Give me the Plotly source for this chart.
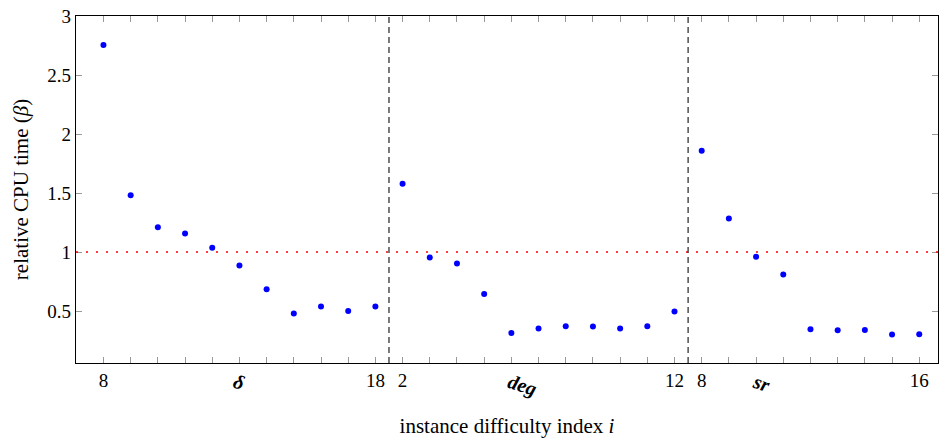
import plotly.graph_objects as go

# Data
groups = ["δ", "deg", "sr"]
idx_delta = list(range(8, 19))      # 8..18
idx_deg = list(range(2, 13))        # 2..12
idx_sr = list(range(8, 17))         # 8..16
beta_delta = [2.755, 1.482, 1.211, 1.158, 1.037, 0.887, 0.684, 0.479, 0.538, 0.501, 0.538]
beta_deg = [1.579, 0.953, 0.904, 0.645, 0.315, 0.352, 0.371, 0.369, 0.352, 0.371, 0.496]
beta_sr = [1.858, 1.285, 0.961, 0.809, 0.346, 0.338, 0.340, 0.301, 0.304]
reference_beta = 1.0

all_idx = idx_delta + idx_deg + idx_sr
all_beta = beta_delta + beta_deg + beta_sr
pos = list(range(len(all_beta)))

n1, n2, n3 = len(idx_delta), len(idx_deg), len(idx_sr)
shown = {0, n1 - 1, n1, n1 + n2 - 1, n1 + n2, n1 + n2 + n3 - 1}
ticktext = [str(v) if i in shown else "" for i, v in enumerate(all_idx)]

FONT = "Liberation Serif"

fig = go.Figure()
fig.add_trace(go.Scatter(x=pos, y=all_beta, mode="markers",
                         marker=dict(color="#0000ff", size=6), showlegend=False))

# reference line
fig.add_hline(y=reference_beta, line=dict(color="red", dash="2px,8px", width=1.5))
# separators
fig.add_vline(x=n1 - 0.5, line=dict(color="#222", dash="6px,4px", width=1.2))
fig.add_vline(x=n1 + n2 - 0.5, line=dict(color="#222", dash="6px,4px", width=1.2))

# group labels
centers = [5.0, 15.4, 24.2]
for g, c in zip(groups, centers):
    fig.add_annotation(x=c, y=-0.012, xref="x", yref="paper", yanchor="top",
                       text=f"<b><i>{g}</i></b>", showarrow=False, textangle=18,
                       font=dict(family=FONT, size=20, color="black"))

fig.update_xaxes(range=[-1.01, 30.69], tickmode="array", tickvals=pos, ticktext=ticktext,
                 ticks="inside", ticklen=6, tickcolor="#999", mirror="allticks",
                 showline=True, linecolor="black", linewidth=1.2, showgrid=False, zeroline=False,
                 tickfont=dict(family=FONT, size=19, color="black"),
                 title=dict(text="instance difficulty index <i>i</i>", standoff=28,
                            font=dict(family=FONT, size=21, color="black")))
fig.update_yaxes(range=[0.06, 3.0], tickmode="array", tickvals=[0.5, 1, 1.5, 2, 2.5, 3],
                 ticktext=["0.5", "1", "1.5", "2", "2.5", "3"],
                 ticks="inside", ticklen=6, tickcolor="#999", mirror="allticks",
                 showline=True, linecolor="black", linewidth=1.2, showgrid=False, zeroline=False,
                 tickfont=dict(family=FONT, size=19, color="black"),
                 title=dict(text="relative CPU time (<i>β</i>)", standoff=12,
                            font=dict(family=FONT, size=21, color="black")))

fig.update_layout(width=940, height=438, margin=dict(l=76, r=2, t=16, b=75),
                  plot_bgcolor="white", paper_bgcolor="white")

fig.write_html("out.html")
